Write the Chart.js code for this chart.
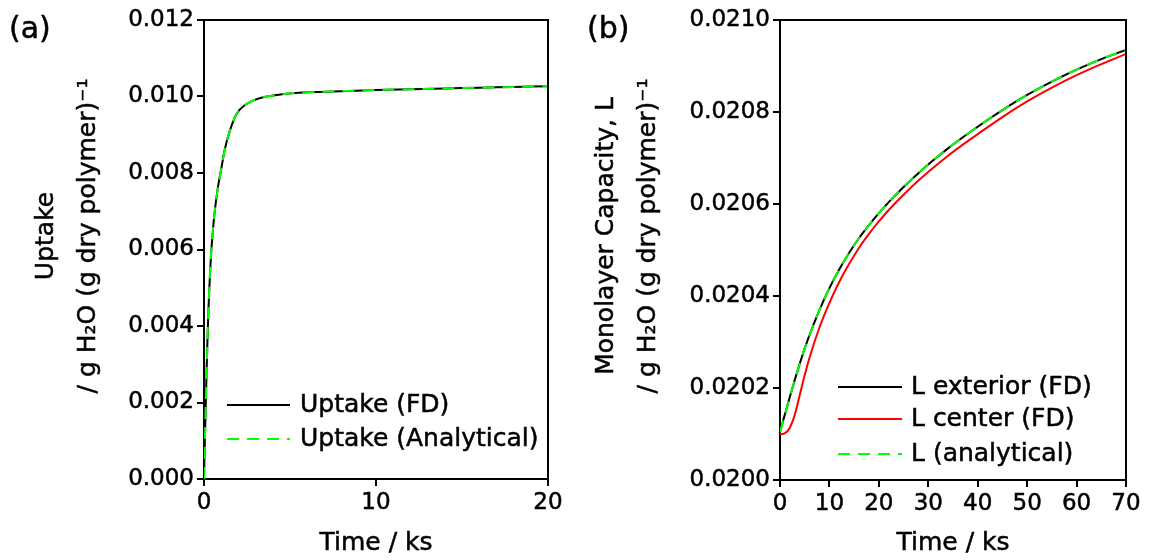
<!DOCTYPE html>
<html>
<head>
<meta charset="utf-8">
<script src="https://cdn.jsdelivr.net/npm/chart.js@4.4.1/dist/chart.umd.min.js"></script>
<style>
  body { margin: 0; background: #fff; }
  .panel { position: absolute; top: 0; height: 560px; }
</style>
</head>
<body>
<div class="panel" style="left:0;width:577px"><canvas id="chartA" width="577" height="560"></canvas></div>
<div class="panel" style="left:577px;width:578px"><canvas id="chartB" width="578" height="560"></canvas></div>
<script>
// (a) uptake vs time
const timeA = [0, 0.05, 0.1, 0.15, 0.2, 0.25, 0.3, 0.4, 0.5, 0.6, 0.8, 1.0, 1.2, 1.5, 1.9, 2.4, 3.2, 4.1, 5.3, 6.5, 8, 10, 12, 14, 16, 18, 20];
const uptakeFD = [0, 0.0010, 0.0019, 0.0028, 0.0036, 0.0043, 0.0049, 0.0058, 0.0064, 0.0069, 0.0076, 0.0081, 0.0086, 0.0091, 0.00955, 0.00978, 0.00995, 0.01003, 0.01009, 0.01012, 0.01014, 0.01017, 0.01019, 0.01021, 0.01023, 0.01025, 0.01027];
const uptakeAnalytical = [0, 0.0010, 0.0019, 0.0028, 0.0036, 0.0043, 0.0049, 0.0058, 0.0064, 0.0069, 0.0076, 0.0081, 0.0086, 0.0091, 0.00955, 0.00978, 0.00995, 0.01003, 0.01009, 0.01012, 0.01014, 0.01017, 0.01019, 0.01021, 0.01023, 0.01025, 0.01027];

// (b) monolayer capacity vs time
const timeB = [0, 0.5, 1, 1.5, 2, 3, 4, 5, 6, 8, 10, 12, 14, 16, 18, 20, 22, 25, 28, 31, 34, 37, 40, 45, 50, 55, 60, 65, 70];
const lExterior = [0.020104, 0.020124, 0.020143, 0.020162, 0.020181, 0.020218, 0.020253, 0.020286, 0.020316, 0.020370, 0.020417, 0.020458, 0.020494, 0.020526, 0.020554, 0.020580, 0.020604, 0.020637, 0.020667, 0.020695, 0.020721, 0.020745, 0.020768, 0.020804, 0.020837, 0.020866, 0.020892, 0.020915, 0.020935];
const lCenter = [0.020100, 0.020100, 0.020102, 0.020106, 0.020114, 0.020142, 0.020185, 0.020228, 0.020267, 0.020332, 0.020385, 0.020431, 0.020470, 0.020505, 0.020535, 0.020562, 0.020587, 0.020620, 0.020651, 0.020679, 0.020705, 0.020729, 0.020752, 0.020789, 0.020823, 0.020853, 0.020880, 0.020904, 0.020926];
const lAnalytical = [0.020104, 0.020124, 0.020143, 0.020162, 0.020181, 0.020218, 0.020253, 0.020286, 0.020316, 0.020370, 0.020417, 0.020458, 0.020494, 0.020526, 0.020554, 0.020580, 0.020604, 0.020637, 0.020667, 0.020695, 0.020721, 0.020745, 0.020768, 0.020804, 0.020837, 0.020866, 0.020892, 0.020915, 0.020935];

const FONT = 'DejaVu Sans';
const WEIGHT = 0.5; // faint stroke so the text reads as heavy as the original
const toPoints = (xs, ys) => xs.map((x, i) => ({ x, y: ys[i] }));

function text(ctx, str, x, y) {
  ctx.strokeText(str, x, y);
  ctx.fillText(str, x, y);
}

// top/right frame, axis titles, panel letter and legend, drawn by hand
const extras = {
  id: 'extras',
  afterDraw(chart, args, opts) {
    const { ctx, chartArea: a } = chart;
    ctx.save();
    ctx.strokeStyle = '#000';
    ctx.lineWidth = 2;
    ctx.beginPath();
    ctx.moveTo(a.left, a.top);
    ctx.lineTo(a.right, a.top);
    ctx.lineTo(a.right, a.bottom);
    ctx.stroke();

    ctx.fillStyle = '#000';
    ctx.lineWidth = WEIGHT;
    ctx.font = `30px "${FONT}"`;
    ctx.textAlign = 'left';
    ctx.textBaseline = 'middle';
    text(ctx, opts.letter, opts.letterX, 30);

    ctx.font = `25px "${FONT}"`;
    ctx.textAlign = 'center';
    text(ctx, 'Time / ks', (a.left + a.right) / 2, 543);
    opts.yTitle.forEach((line, i) => {
      ctx.save();
      ctx.translate(opts.yTitleX[i], 236);
      ctx.rotate(-Math.PI / 2);
      text(ctx, line, 0, 0);
      ctx.restore();
    });

    ctx.textAlign = 'left';
    opts.legend.forEach((idx, row) => {
      const ds = chart.data.datasets[idx];
      const y = opts.legendY[row];
      ctx.strokeStyle = ds.borderColor;
      ctx.lineWidth = 2;
      ctx.setLineDash(ds.borderDash || []);
      ctx.beginPath();
      ctx.moveTo(opts.legendX[0], y);
      ctx.lineTo(opts.legendX[1], y);
      ctx.stroke();
      ctx.setLineDash([]);
      ctx.strokeStyle = '#000';
      ctx.lineWidth = WEIGHT;
      text(ctx, ds.label, opts.legendX[2], y);
    });
    ctx.restore();
  }
};

function axis(min, max, step, digits, extra) {
  return Object.assign({
    type: 'linear',
    min, max,
    ticks: {
      stepSize: step,
      color: '#000',
      textStrokeColor: '#000',
      textStrokeWidth: WEIGHT,
      font: { family: FONT, size: 23 },
      callback: v => digits ? v.toFixed(digits) : v
    },
    grid: { drawOnChartArea: false, drawTicks: true, tickLength: 7, color: '#000', lineWidth: 2 },
    border: { color: '#000', width: 2 }
  }, extra);
}

new Chart(document.getElementById('chartA'), {
  type: 'line',
  data: {
    datasets: [
      { label: 'Uptake (FD)', data: toPoints(timeA, uptakeFD), borderColor: '#000000', borderWidth: 2, order: 1 },
      { label: 'Uptake (Analytical)', data: toPoints(timeA, uptakeAnalytical), borderColor: '#00ff00', borderWidth: 2, borderDash: [12, 8], order: 0 }
    ]
  },
  options: {
    responsive: false,
    animation: false,
    devicePixelRatio: 1,
    elements: { point: { radius: 0 }, line: { cubicInterpolationMode: 'monotone' } },
    layout: { padding: { top: 20, right: 29, left: 0, bottom: 0 } },
    scales: {
      x: axis(0, 20, 10, 0, { afterFit(s) { s.height = 81; } }),
      y: axis(0, 0.012, 0.002, 3, { afterFit(s) { s.width = 204; } })
    },
    plugins: {
      legend: { display: false },
      tooltip: { enabled: false },
      extras: {
        letter: '(a)', letterX: 9,
        yTitle: ['Uptake', '/ g H₂O (g dry polymer)⁻¹'], yTitleX: [46, 88],
        legend: [0, 1], legendX: [227, 290, 300], legendY: [405, 439]
      }
    }
  },
  plugins: [extras]
});

new Chart(document.getElementById('chartB'), {
  type: 'line',
  data: {
    datasets: [
      { label: 'L exterior (FD)', data: toPoints(timeB, lExterior), borderColor: '#000000', borderWidth: 2, order: 1 },
      { label: 'L center (FD)', data: toPoints(timeB, lCenter), borderColor: '#ff0000', borderWidth: 2, order: 2 },
      { label: 'L (analytical)', data: toPoints(timeB, lAnalytical), borderColor: '#00ff00', borderWidth: 2, borderDash: [12, 8], order: 0 }
    ]
  },
  options: {
    responsive: false,
    animation: false,
    devicePixelRatio: 1,
    elements: { point: { radius: 0 }, line: { cubicInterpolationMode: 'monotone' } },
    layout: { padding: { top: 20, right: 29, left: 0, bottom: 0 } },
    scales: {
      x: axis(0, 70, 10, 0, { afterFit(s) { s.height = 80; } }),
      y: axis(0.0200, 0.0210, 0.0002, 4, { afterFit(s) { s.width = 203; } })
    },
    plugins: {
      legend: { display: false },
      tooltip: { enabled: false },
      extras: {
        letter: '(b)', letterX: 10,
        yTitle: ['Monolayer Capacity, L', '/ g H₂O (g dry polymer)⁻¹'], yTitleX: [29, 71],
        legend: [0, 1, 2], legendX: [261, 325, 334], legendY: [387, 419, 454]
      }
    }
  },
  plugins: [extras]
});
</script>
</body>
</html>
